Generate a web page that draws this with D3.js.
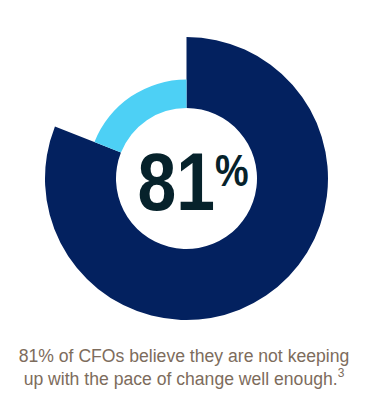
<!DOCTYPE html>
<html>
<head>
<meta charset="utf-8">
<script src="https://cdn.jsdelivr.net/npm/d3@7"></script>
<style>
  body { margin: 0; background: #fff; }
</style>
</head>
<body>
<div id="chart"></div>
<script>
// chart values
const shareLabels = ["Not keeping up", "Keeping up"];
const shareValues = [81, 19];
const shareColors = ["#03215f", "#4dd0f5"];
const headline = "81";
const captionLines = ["81% of CFOs believe they are not keeping", "up with the pace of change well enough."];

const chart = { width: 373, height: 415, cx: 186.5, cy: 178.5 };

chart.svg = d3.select("#chart")
    .append("svg")
    .attr("width", chart.width)
    .attr("height", chart.height);

const pie = d3.pie().sort(null).value(d => d)(shareValues);

// the big share gets a thicker ring than the rest
const radius = d3.scaleOrdinal().domain(shareLabels).range([141.5, 99]);

const ring = chart.svg.append("g")
    .attr("transform", `translate(${chart.cx}, ${chart.cy})`);

ring.selectAll("path")
    .data(pie)
    .enter()
    .append("path")
    .attr("d", (d, i) => d3.arc().innerRadius(70.5).outerRadius(radius(shareLabels[i]))(d))
    .attr("fill", (d, i) => shareColors[i]);

// big number in the middle
const big = ring.append("text")
    .attr("transform", "translate(-49, 31.5) scale(0.86, 1)")
    .attr("font-family", "Liberation Sans, Arial, sans-serif")
    .attr("font-weight", "bold")
    .attr("fill", "#06222b");
big.append("tspan")
    .attr("font-size", 81)
    .text(headline);
big.append("tspan")
    .attr("font-size", 44)
    .attr("dy", -24)
    .text("%");

// caption
const cap = chart.svg.append("text")
    .attr("text-anchor", "middle")
    .attr("font-family", "Liberation Sans, Arial, sans-serif")
    .attr("font-size", 17.6)
    .attr("fill", "#7d6c5c");
captionLines.forEach((line, i) => {
    const t = cap.append("tspan")
        .attr("x", 184)
        .attr("y", 362 + i * 23)
        .text(line);
    if (i === captionLines.length - 1) {
        t.append("tspan")
            .attr("font-size", 12)
            .attr("dy", -8)
            .text("3");
    }
});
</script>
</body>
</html>
